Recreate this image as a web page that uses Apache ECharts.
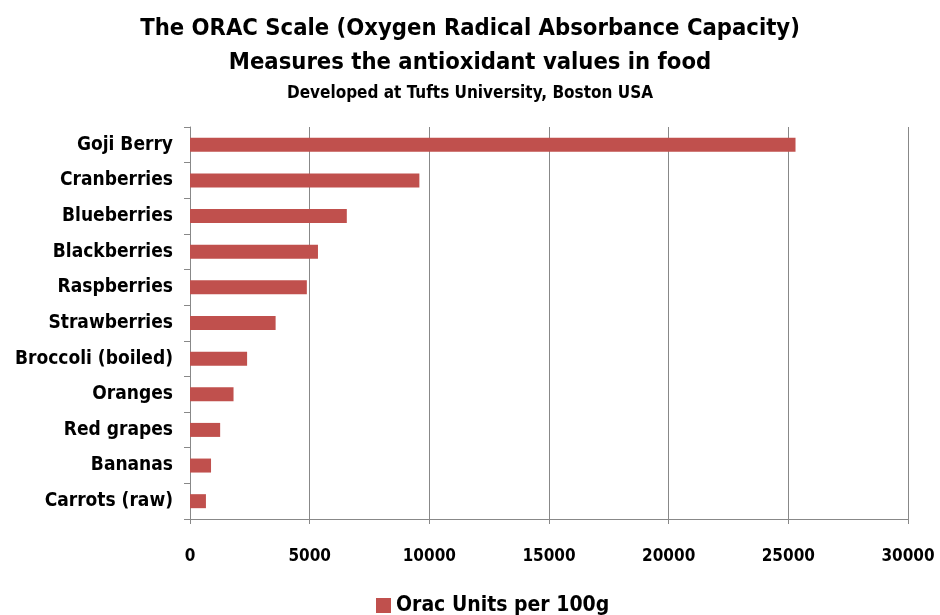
<!DOCTYPE html>
<html>
<head>
<meta charset="utf-8">
<script src="https://cdn.jsdelivr.net/npm/echarts@6/dist/echarts.min.js"></script>
<style>html,body{margin:0;padding:0;background:#fff}#c{width:940px;height:615px}</style>
</head>
<body>
<div id="c"></div>
<script>
var categories = ["Goji Berry","Cranberries","Blueberries","Blackberries","Raspberries","Strawberries","Broccoli (boiled)","Oranges","Red grapes","Bananas","Carrots (raw)"];
var oracValues = [25300, 9584, 6552, 5347, 4882, 3577, 2386, 1819, 1260, 879, 666];
var xTicks = [0, 5000, 10000, 15000, 20000, 25000, 30000];
var seriesName = "Orac Units per 100g";

var FONT = '"Liberation Sans Narrow","DejaVu Sans Condensed","Roboto Condensed",sans-serif';
var chart = echarts.init(document.getElementById('c'), null, {renderer:'canvas'});
chart.setOption({
  backgroundColor: '#fff',
  animation: false,
  title: [
    {text: 'The ORAC Scale (Oxygen Radical Absorbance Capacity)', left: 'center', top: 12,
     textStyle: {fontFamily: FONT, fontSize: 23.6, fontWeight: 'bold', color: '#000'}},
    {text: 'Measures the antioxidant values in food', left: 'center', top: 46,
     textStyle: {fontFamily: FONT, fontSize: 23.6, fontWeight: 'bold', color: '#000'}},
    {text: 'Developed at Tufts University, Boston USA', left: 'center', top: 80,
     textStyle: {fontFamily: FONT, fontSize: 17, fontWeight: 'bold', color: '#000'}}
  ],
  legend: {
    data: [seriesName], left: 371, top: 590, itemWidth: 15, itemHeight: 15, itemGap: 6,
    icon: 'rect',
    textStyle: {fontFamily: FONT, fontSize: 21, fontWeight: 'bold', color: '#000'}
  },
  grid: {left: 190, right: 32, top: 127, bottom: 96, containLabel: false},
  xAxis: {
    type: 'value', min: 0, max: 30000, interval: 5000,
    axisLine: {show: true, lineStyle: {color: '#888', width: 1}},
    axisTick: {show: true, length: 5, lineStyle: {color: '#888'}},
    splitLine: {show: true, lineStyle: {color: '#888', width: 1}},
    axisLabel: {margin: 29, fontFamily: FONT, fontSize: 17, fontWeight: 'bold', color: '#000',
      formatter: function(v){ return xTicks.indexOf(v) >= 0 ? String(v) : ''; }}
  },
  yAxis: {
    type: 'category', data: categories, inverse: true,
    axisLine: {show: true, lineStyle: {color: '#888', width: 1}},
    axisTick: {show: true, length: 6, lineStyle: {color: '#888'}},
    axisLabel: {margin: 17, fontFamily: FONT, fontSize: 19, fontWeight: 'bold', color: '#000'}
  },
  series: [{
    name: seriesName, type: 'bar', data: oracValues, barWidth: 14,
    itemStyle: {color: '#C0504D'}
  }]
});
</script>
</body>
</html>
